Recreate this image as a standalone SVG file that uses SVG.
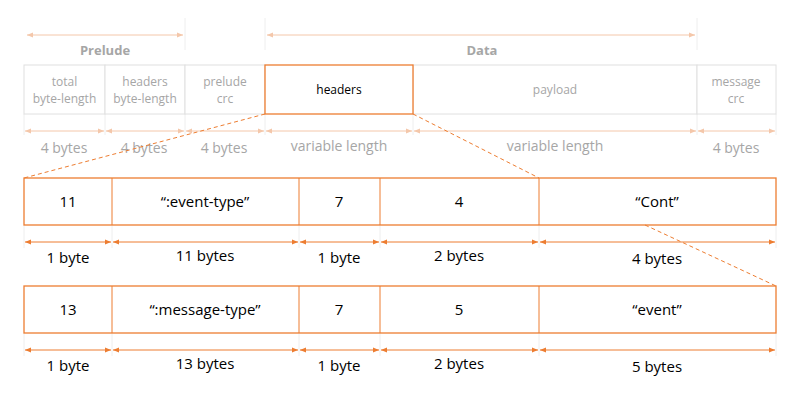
<svg xmlns="http://www.w3.org/2000/svg" width="800" height="413" viewBox="0 0 800 413">
<style>
.ft{fill:#a6a6a6;font-family:"Open Sans","Liberation Sans",sans-serif;font-size:12px;text-anchor:middle}
.fb{fill:#a6a6a6;font-family:"Open Sans","Liberation Sans",sans-serif;font-size:14px;text-anchor:middle}
.t{fill:#000;font-family:"Open Sans","Liberation Sans",sans-serif;font-size:15px;text-anchor:middle}
.fbox{fill:#fff;stroke:#e0e0e0;stroke-width:1}
.box{fill:#fff;stroke:#ed7d31;stroke-width:1.3}
.fl{stroke:#f4c7aa;stroke-width:1;fill:none}
.ext{stroke:#eeeeee;stroke-width:1}
.al{stroke:#ed7d31;stroke-width:1;fill:none}
</style>
<defs>
<marker id="fa" markerWidth="6" markerHeight="6" refX="6" refY="3" orient="auto-start-reverse"><path d="M0,0.5 L6,3 L0,5.5z" fill="#f4c7aa"/></marker>
<marker id="a" markerWidth="6" markerHeight="6" refX="6" refY="3" orient="auto-start-reverse"><path d="M0,0.5 L6,3 L0,5.5z" fill="#ed7d31"/></marker>
</defs>
<rect width="800" height="413" fill="#fff"/>
<g id="ext">
<line class="ext" x1="185" y1="18" x2="185" y2="50"/><line class="ext" x1="265" y1="18" x2="265" y2="50"/><line class="ext" x1="697" y1="18" x2="697" y2="50"/>
<line class="ext" x1="24" y1="114" x2="24" y2="135"/><line class="ext" x1="105" y1="114" x2="105" y2="135"/><line class="ext" x1="185" y1="114" x2="185" y2="135"/><line class="ext" x1="265" y1="114" x2="265" y2="135"/><line class="ext" x1="413" y1="114" x2="413" y2="135"/><line class="ext" x1="697" y1="114" x2="697" y2="135"/><line class="ext" x1="776" y1="114" x2="776" y2="135"/>
<line class="ext" x1="24" y1="225" x2="24" y2="248"/><line class="ext" x1="112" y1="225" x2="112" y2="248"/><line class="ext" x1="299" y1="225" x2="299" y2="248"/><line class="ext" x1="380" y1="225" x2="380" y2="248"/><line class="ext" x1="539" y1="225" x2="539" y2="248"/><line class="ext" x1="776" y1="225" x2="776" y2="248"/>
<line class="ext" x1="24" y1="333" x2="24" y2="356"/><line class="ext" x1="112" y1="333" x2="112" y2="356"/><line class="ext" x1="299" y1="333" x2="299" y2="356"/><line class="ext" x1="380" y1="333" x2="380" y2="356"/><line class="ext" x1="539" y1="333" x2="539" y2="356"/><line class="ext" x1="776" y1="333" x2="776" y2="356"/>
</g>
<g id="top">
<rect class="fbox" x="24" y="65" width="81" height="49"/><text class="ft" x="64.5" y="86">total</text><text class="ft" x="64.5" y="103">byte-length</text>
<rect class="fbox" x="105" y="65" width="80" height="49"/><text class="ft" x="145" y="86">headers</text><text class="ft" x="145" y="103">byte-length</text>
<rect class="fbox" x="185" y="65" width="80" height="49"/><text class="ft" x="225" y="86">prelude</text><text class="ft" x="225" y="103">crc</text>
<rect class="fbox" x="413" y="65" width="284" height="49"/><text class="ft" x="555" y="94">payload</text>
<rect class="fbox" x="697" y="65" width="79" height="49"/><text class="ft" x="736" y="86">message</text><text class="ft" x="736" y="103">crc</text>
<rect class="box" x="265" y="65" width="148" height="49"/><text class="t" x="339" y="94" style="font-size:12px">headers</text>
<text class="fb" x="105" y="55" style="font-weight:bold;font-size:13px">Prelude</text><text class="fb" x="482" y="55" style="font-weight:bold;font-size:13px">Data</text>
<text class="fb" x="64" y="153">4 bytes</text><text class="fb" x="144" y="153">4 bytes</text><text class="fb" x="224" y="153">4 bytes</text><text class="fb" x="339" y="151">variable length</text><text class="fb" x="555" y="151">variable length</text><text class="fb" x="736" y="153">4 bytes</text>
</g>
<g id="row1">
<rect class="box" x="24" y="178" width="752" height="47"/>
<line class="al" x1="112" y1="178" x2="112" y2="225"/><line class="al" x1="299" y1="178" x2="299" y2="225"/><line class="al" x1="380" y1="178" x2="380" y2="225"/><line class="al" x1="539" y1="178" x2="539" y2="225"/>
<text class="t" x="68" y="207">11</text><text class="t" x="205" y="207">“:event-type”</text><text class="t" x="339" y="207">7</text><text class="t" x="459" y="207">4</text><text class="t" x="657" y="207">“Cont”</text>
<text class="t" x="68" y="263">1 byte</text><text class="t" x="205" y="261">11 bytes</text><text class="t" x="339" y="263">1 byte</text><text class="t" x="459" y="261">2 bytes</text><text class="t" x="657" y="264">4 bytes</text>
</g>
<g id="row2">
<rect class="box" x="24" y="286" width="752" height="47"/>
<line class="al" x1="112" y1="286" x2="112" y2="333"/><line class="al" x1="299" y1="286" x2="299" y2="333"/><line class="al" x1="380" y1="286" x2="380" y2="333"/><line class="al" x1="539" y1="286" x2="539" y2="333"/>
<text class="t" x="68" y="315">13</text><text class="t" x="205" y="315">“:message-type”</text><text class="t" x="339" y="315">7</text><text class="t" x="459" y="315">5</text><text class="t" x="657" y="315">“event”</text>
<text class="t" x="68" y="371">1 byte</text><text class="t" x="205" y="369">13 bytes</text><text class="t" x="339" y="371">1 byte</text><text class="t" x="459" y="369">2 bytes</text><text class="t" x="657" y="372">5 bytes</text>
</g>
<g id="connectors">
<line class="fl" x1="27" y1="35" x2="183" y2="35" marker-start="url(#fa)" marker-end="url(#fa)"/>
<line class="fl" x1="267" y1="35" x2="695" y2="35" marker-start="url(#fa)" marker-end="url(#fa)"/>
<line class="fl" x1="25" y1="131" x2="104" y2="131" marker-start="url(#fa)" marker-end="url(#fa)"/>
<line class="fl" x1="106" y1="131" x2="184" y2="131" marker-start="url(#fa)" marker-end="url(#fa)"/>
<line class="fl" x1="186" y1="131" x2="264" y2="131" marker-start="url(#fa)" marker-end="url(#fa)"/>
<line class="fl" x1="266" y1="131" x2="412" y2="131" marker-start="url(#fa)" marker-end="url(#fa)"/>
<line class="fl" x1="414" y1="131" x2="696" y2="131" marker-start="url(#fa)" marker-end="url(#fa)"/>
<line class="fl" x1="698" y1="131" x2="775" y2="131" marker-start="url(#fa)" marker-end="url(#fa)"/>
<line class="al" x1="25" y1="242" x2="111" y2="242" marker-start="url(#a)" marker-end="url(#a)"/>
<line class="al" x1="113" y1="242" x2="298" y2="242" marker-start="url(#a)" marker-end="url(#a)"/>
<line class="al" x1="300" y1="242" x2="379" y2="242" marker-start="url(#a)" marker-end="url(#a)"/>
<line class="al" x1="381" y1="242" x2="538" y2="242" marker-start="url(#a)" marker-end="url(#a)"/>
<line class="al" x1="540" y1="242" x2="775" y2="242" marker-start="url(#a)" marker-end="url(#a)"/>
<line class="al" x1="25" y1="350" x2="111" y2="350" marker-start="url(#a)" marker-end="url(#a)"/>
<line class="al" x1="113" y1="350" x2="298" y2="350" marker-start="url(#a)" marker-end="url(#a)"/>
<line class="al" x1="300" y1="350" x2="379" y2="350" marker-start="url(#a)" marker-end="url(#a)"/>
<line class="al" x1="381" y1="350" x2="538" y2="350" marker-start="url(#a)" marker-end="url(#a)"/>
<line class="al" x1="540" y1="350" x2="775" y2="350" marker-start="url(#a)" marker-end="url(#a)"/>
<line class="al" x1="265" y1="114" x2="24" y2="178" stroke-dasharray="4,3"/>
<line class="al" x1="413" y1="114" x2="539" y2="178" stroke-dasharray="4,3"/>
<line class="al" x1="645" y1="225" x2="776" y2="286" stroke-dasharray="4,3"/>
</g>
</svg>
